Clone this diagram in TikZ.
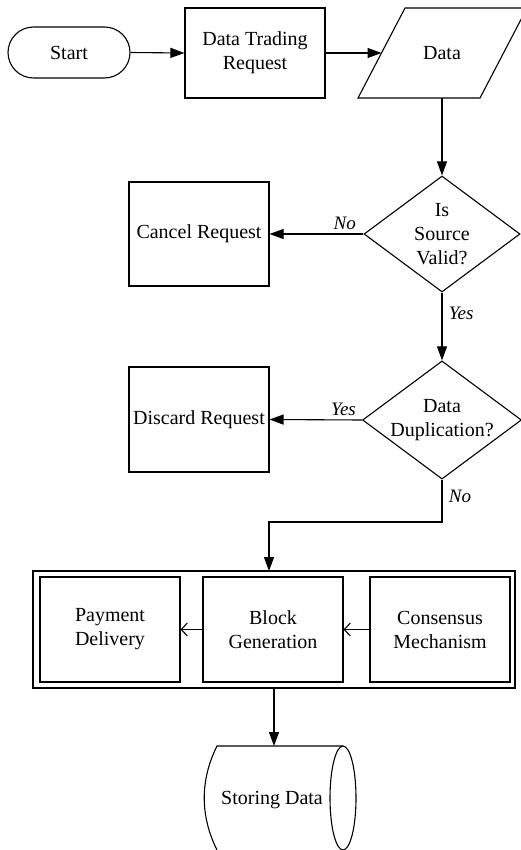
\documentclass[tikz,border=0pt]{standalone}
\usepackage{fontspec}
\setmainfont{Liberation Serif}
\usetikzlibrary{arrows.meta,shapes.geometric,calc}
\begin{document}
\begin{tikzpicture}[x=1pt,y=-1pt,
  every node/.style={font=\fontsize{20}{24}\selectfont, align=center},
  line/.style={line width=1.1pt},
  arr/.style={line, -{Triangle[length=14pt,width=10pt]}},
  oarr/.style={line, -{Straight Barb[length=6pt,width=13pt,line width=1.1pt]}},
  boxr/.style={draw, line, rectangle, inner sep=0pt},
  dia/.style={draw, line, diamond, aspect=1.345, inner sep=0pt, minimum width=156pt, minimum height=116pt},
  lab/.style={font=\fontsize{19}{23}\selectfont\itshape}
]
\useasboundingbox (0,0) rectangle (520,850);

% top row
\node[draw, line, rectangle, rounded corners=25.5pt, minimum width=122pt, minimum height=51pt] (start) at (69,52.5) {Start};
\node[boxr, minimum width=140pt, minimum height=90pt] (req) at (255,53) {Data Trading\\Request};
\node[inner sep=0pt, minimum width=122pt, minimum height=90pt] (data) at (442,53) {Data};
\draw[line] (405,8) -- (527,8) -- (480,98) -- (358,98) -- cycle;
\coordinate (dataL) at (381.5,53);

% decisions
\node[dia] (d1) at (442,234) {Is\\Source\\Valid?};
\node[boxr, minimum width=140pt, minimum height=104pt] (cancel) at (199,234) {Cancel Request};
\node[dia] (d2) at (442,420) {Data\\Duplication?};
\node[boxr, minimum width=140pt, minimum height=105pt] (discard) at (199,419.5) {Discard Request};

% bottom group
\node[boxr, minimum width=482pt, minimum height=117pt] (outer) at (274,629.5) {};
\node[boxr, minimum width=140pt, minimum height=105pt] (pay) at (110,629.5) {Payment\\Delivery};
\node[boxr, minimum width=140pt, minimum height=105pt] (block) at (273,629.5) {Block\\Generation};
\node[boxr, minimum width=140pt, minimum height=105pt] (cons) at (440,629.5) {Consensus\\Mechanism};

% storage
\node (store) at (272,800) {Storing Data};
\draw[line] (343,746) -- (217,746) .. controls (200,780) and (200,816) .. (217,850);
\draw[line] (343,798) ellipse [x radius=13pt, y radius=52pt];
\coordinate (storetop) at (274,746);

% connectors
\draw[arr] (start.east) -- (req.west);
\draw[arr] (req.east) -- (dataL);
\draw[arr] (data.south) -- (d1.north);
\draw[arr] (d1.west) -- node[lab, above, pos=0.2] {No} (cancel.east);
\draw[arr] (d1.south) -- node[lab, right, pos=0.3, xshift=3pt] {Yes} (d2.north);
\draw[arr] (d2.west) -- node[lab, above, pos=0.2] {Yes} (discard.east);
\coordinate (outin) at (269,571);
\draw[arr] (d2.south) -- node[lab, right, pos=0.4, xshift=3pt] {No} (442,522) -| (outin);
\draw[oarr] (block.west) -- (pay.east);
\draw[oarr] (cons.west) -- (block.east);
\draw[arr] (outer.south) -- (storetop);
\end{tikzpicture}
\end{document}
